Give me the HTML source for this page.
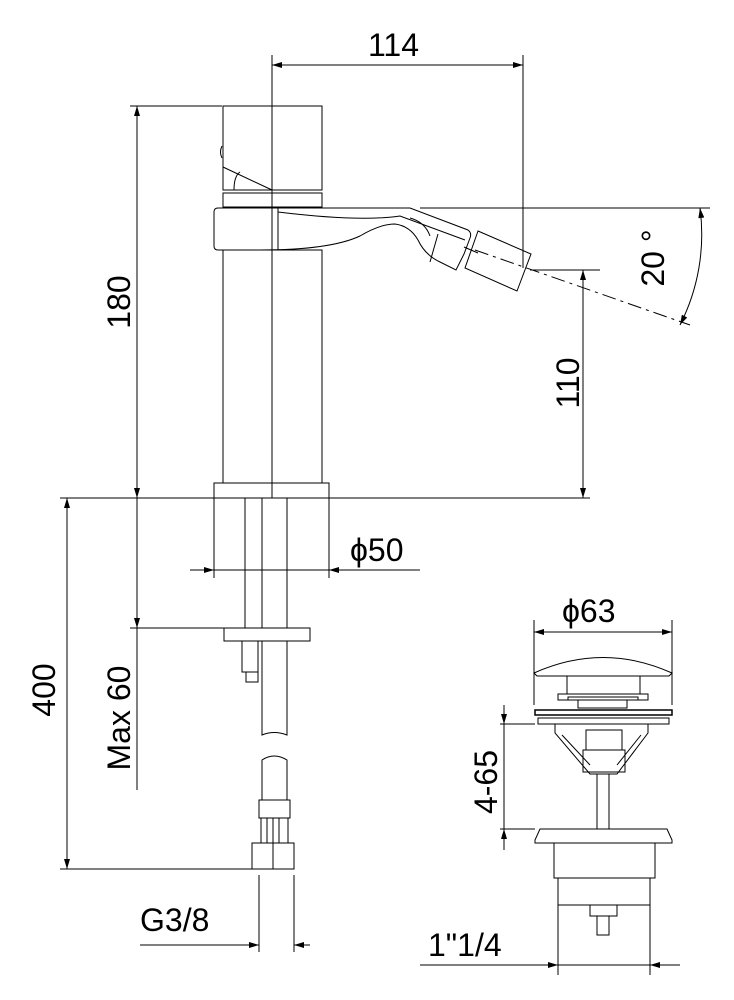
<!DOCTYPE html>
<html><head><meta charset="utf-8"><style>
html,body{margin:0;padding:0;background:#fff;}
svg{display:block;}
text{font-family:"Liberation Sans",Arial,sans-serif;font-size:32px;fill:#000;}
</style></head><body>
<svg width="734" height="1000" viewBox="0 0 734 1000" xmlns="http://www.w3.org/2000/svg">
<defs>
<marker id="a" viewBox="0 0 10 6" refX="10" refY="3" markerWidth="14" markerHeight="6" markerUnits="userSpaceOnUse" orient="auto-start-reverse"><path d="M0,0L10,3L0,6z" fill="#000"/></marker>
</defs>
<g fill="none" stroke="#000" stroke-width="1">
<line x1="272" y1="55" x2="272" y2="498"/>
<line x1="523" y1="55" x2="523" y2="268"/>
<line x1="272" y1="65" x2="523" y2="65" marker-start="url(#a)" marker-end="url(#a)"/>
<line x1="130" y1="106" x2="222" y2="106"/>
<line x1="137" y1="106" x2="137" y2="498" marker-start="url(#a)" marker-end="url(#a)"/>
<line x1="60" y1="498" x2="214" y2="498"/>
<line x1="329" y1="498" x2="590" y2="498"/>
<line x1="530" y1="270" x2="600" y2="270"/>
<line x1="583" y1="270" x2="583" y2="498" marker-start="url(#a)" marker-end="url(#a)"/>
<line x1="420" y1="208" x2="710" y2="208"/>
<line x1="475" y1="250" x2="690" y2="325" stroke-dasharray="14,5,3,5"/>
<path d="M700,208 A200,200 0 0 1 680,325" marker-start="url(#a)" marker-end="url(#a)"/>
<line x1="214" y1="498" x2="214" y2="578"/>
<line x1="329" y1="498" x2="329" y2="578"/>
<line x1="190" y1="570" x2="214" y2="570" marker-end="url(#a)"/>
<line x1="420" y1="570" x2="329" y2="570" marker-end="url(#a)"/>
<line x1="214" y1="570" x2="329" y2="570"/>
<line x1="67" y1="498" x2="67" y2="869" marker-start="url(#a)" marker-end="url(#a)"/>
<line x1="60" y1="869" x2="252" y2="869"/>
<line x1="130" y1="628" x2="224" y2="628"/>
<line x1="137" y1="498" x2="137" y2="628" marker-end="url(#a)"/>
<line x1="137" y1="628" x2="137" y2="790"/>
<line x1="259" y1="875" x2="259" y2="952"/>
<line x1="294" y1="875" x2="294" y2="952"/>
<line x1="140" y1="945" x2="259" y2="945" marker-end="url(#a)"/>
<line x1="310" y1="945" x2="294" y2="945" marker-end="url(#a)"/>
<!-- faucet -->
<rect x="223" y="106" width="99" height="84"/>
<path d="M223,167 L272,190"/>
<path d="M234,190 Q234,176 240,172"/>
<path d="M222,146 Q219,152 222,158"/>
<rect x="223" y="193" width="99" height="14"/>
<path d="M218,208 L410,208 L468,230 Q472,233 470,238 L464,254 L456,270 L440,262 Q425,255 418,240 Q410,226 395,224 Q380,224 360,236 Q330,250 260,250 L218,250 Q214,250 214,246 L214,212 Q214,208 218,208z"/>
<path d="M278,208 L278,250"/>
<path d="M278,212 Q360,222 400,216 L465,240"/>
<path d="M410,218 Q425,222 430,236"/>
<path d="M438,234 L430,262"/>
<path d="M478,231 L531,254 L517,291 L465,268z"/>
<line x1="464" y1="247" x2="478" y2="253"/>
<rect x="223" y="250" width="99" height="233"/>
<rect x="214" y="483" width="115" height="15"/>
<!-- shanks -->
<line x1="245" y1="498" x2="245" y2="628"/>
<line x1="262" y1="498" x2="262" y2="628"/>
<line x1="287" y1="498" x2="287" y2="628"/>
<rect x="224" y="628" width="86" height="13"/>
<rect x="242" y="641" width="16" height="31"/>
<rect x="246" y="672" width="12" height="10"/>
<path d="M262,641 L262,735 Q274,730 287,735 L287,641"/>
<path d="M262,800 L262,760 Q274,752 287,760 L287,800"/>
<rect x="259" y="800" width="31" height="18"/>
<path d="M261,818 L261,843 M267,818 L267,843 M273,818 L273,843 M279,818 L279,843 M288,818 L288,843"/>
<rect x="252" y="843" width="42" height="26"/>
<line x1="273" y1="843" x2="273" y2="869"/>
<!-- drain -->
<line x1="534" y1="620" x2="534" y2="705"/>
<line x1="672" y1="620" x2="672" y2="705"/>
<line x1="534" y1="632" x2="672" y2="632" marker-start="url(#a)" marker-end="url(#a)"/>
<path d="M534,673 Q603,642 672,673 L669,676 L537,676z"/>
<rect x="567" y="676" width="73" height="18"/>
<rect x="558" y="694" width="90" height="6"/>
<rect x="568" y="697" width="70" height="3"/>
<rect x="578" y="700" width="49" height="8"/>
<rect x="535" y="710" width="137" height="5" stroke-width="1.5"/>
<rect x="538" y="718" width="131" height="6"/>
<path d="M555,724 L648,724 L648,733 L617,774 L590,774 L555,733z"/>
<path d="M562,735 L590,765 M641,735 L617,765"/>
<rect x="586" y="730" width="36" height="20"/>
<rect x="583" y="750" width="42" height="22"/>
<rect x="597" y="774" width="12" height="55"/>
<line x1="500" y1="724" x2="535" y2="724"/>
<line x1="500" y1="829" x2="535" y2="829"/>
<line x1="504" y1="705" x2="504" y2="724" marker-end="url(#a)"/>
<line x1="504" y1="850" x2="504" y2="829" marker-end="url(#a)"/>
<line x1="504" y1="724" x2="504" y2="829"/>
<path d="M540,829 L667,829 L672,840 L672,843 L535,843 L535,840z"/>
<rect x="554" y="843" width="101" height="35"/>
<rect x="558" y="878" width="92" height="27"/>
<rect x="590" y="905" width="27" height="11"/>
<rect x="597" y="916" width="12" height="19"/>
<line x1="558" y1="905" x2="558" y2="975"/>
<line x1="650" y1="905" x2="650" y2="975"/>
<line x1="420" y1="965" x2="558" y2="965" marker-end="url(#a)"/>
<line x1="680" y1="965" x2="650" y2="965" marker-end="url(#a)"/>
<line x1="558" y1="965" x2="650" y2="965"/>
</g>
<text x="368" y="56">114</text>
<text transform="translate(130,302) rotate(-90)" text-anchor="middle">180</text>
<text transform="translate(579,383) rotate(-90)" text-anchor="middle">110</text>
<text transform="translate(664,258) rotate(-90)" text-anchor="middle">20 °</text>
<text x="350" y="561">ϕ50</text>
<text transform="translate(55,690) rotate(-90)" text-anchor="middle">400</text>
<text transform="translate(130,718) rotate(-90)" text-anchor="middle">Max 60</text>
<text x="140" y="931">G3/8</text>
<text x="562" y="622">ϕ63</text>
<text transform="translate(497,782) rotate(-90)" text-anchor="middle">4-65</text>
<text x="428" y="956">1"1/4</text>
</svg>
</body></html>
